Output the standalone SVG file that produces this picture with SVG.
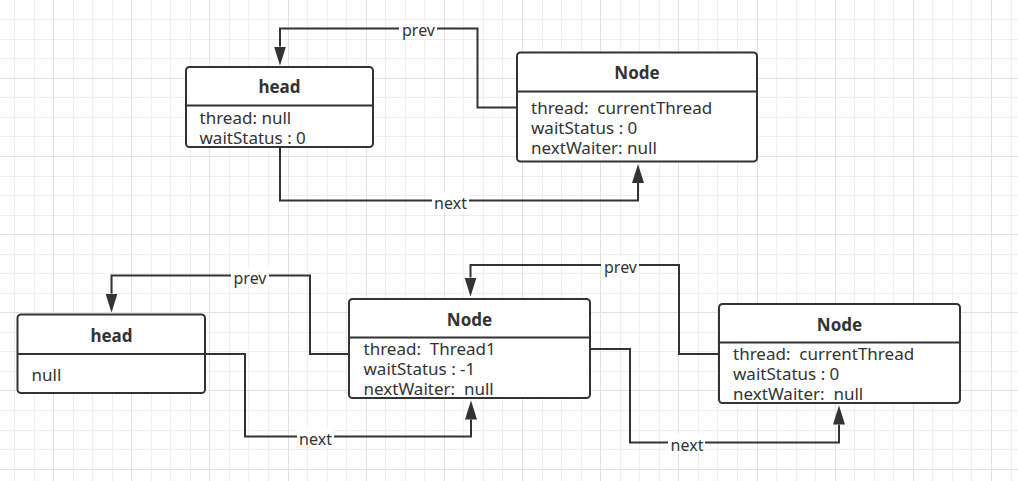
<svg xmlns="http://www.w3.org/2000/svg" width="1018" height="481" viewBox="0 0 1018 481">
<style>
  .minor { stroke: #efefef; stroke-width: 1; fill: none; }
  .major { stroke: #e2e2e2; stroke-width: 1; fill: none; }
  .box { fill: #ffffff; stroke: #333333; stroke-width: 2; }
  .div { stroke: #333333; stroke-width: 2; }
  .title { font-family: "Noto Sans", "Open Sans", sans-serif; font-size: 17px; font-weight: bold; fill: #333333; text-anchor: middle; }
  .body { font-family: "Noto Sans", "Open Sans", sans-serif; font-size: 17px; fill: #333333; white-space: pre; }
  .conn { fill: none; stroke: #333333; stroke-width: 2; }
  .lblbg { fill: #ffffff; }
  .lbl { font-family: "Noto Sans", "Open Sans", sans-serif; font-size: 16px; fill: #333333; text-anchor: middle; }
</style>
<defs>
  <marker id="arrow" markerUnits="userSpaceOnUse" markerWidth="20" markerHeight="14" refX="0" refY="7" orient="auto" viewBox="0 0 20 14">
    <path d="M0,1 L19,7 L0,13 Z" fill="#333333"/>
  </marker>
</defs>
<rect x="0" y="0" width="1018" height="481" fill="#ffffff"/>
<g id="grid">
  <path class="minor" d="M14.5 0V481M34.5 0V481M73.5 0V481M92.5 0V481M112.5 0V481M151.5 0V481M170.5 0V481M190.5 0V481M229.5 0V481M248.5 0V481M268.5 0V481M307.5 0V481M327.5 0V481M346.5 0V481M385.5 0V481M405.5 0V481M424.5 0V481M463.5 0V481M483.5 0V481M502.5 0V481M542.5 0V481M561.5 0V481M581.5 0V481M620.5 0V481M639.5 0V481M659.5 0V481M698.5 0V481M717.5 0V481M737.5 0V481M776.5 0V481M796.5 0V481M815.5 0V481M854.5 0V481M874.5 0V481M893.5 0V481M932.5 0V481M952.5 0V481M971.5 0V481M1011.5 0V481M0 19.5H1018M0 39.5H1018M0 58.5H1018M0 97.5H1018M0 117.5H1018M0 136.5H1018M0 176.5H1018M0 195.5H1018M0 215.5H1018M0 254.5H1018M0 273.5H1018M0 293.5H1018M0 332.5H1018M0 351.5H1018M0 371.5H1018M0 410.5H1018M0 430.5H1018M0 449.5H1018"/>
  <path class="major" d="M53.5 0V481M131.5 0V481M209.5 0V481M288.5 0V481M366.5 0V481M444.5 0V481M522.5 0V481M600.5 0V481M678.5 0V481M757.5 0V481M835.5 0V481M913.5 0V481M991.5 0V481M0 78.5H1018M0 156.5H1018M0 234.5H1018M0 312.5H1018M0 390.5H1018M0 469.5H1018"/>
</g>
<g id="connectors">
  <path class="conn" d="M517 107.5H477.5V28.5H280V46.5" marker-end="url(#arrow)"/>
  <path class="conn" d="M280 147V200.5H638V183" marker-end="url(#arrow)"/>
  <path class="conn" d="M349 354H310V275.5H111.5V293.5" marker-end="url(#arrow)"/>
  <path class="conn" d="M205 354H245V436.5H471V419.5" marker-end="url(#arrow)"/>
  <path class="conn" d="M719 354H679V265H470.5V277.5" marker-end="url(#arrow)"/>
  <path class="conn" d="M590 349H630V442.5H839V424.5" marker-end="url(#arrow)"/>
  <rect class="lblbg" x="399" y="20" width="38" height="19"/>
  <text class="lbl" x="418.5" y="36">prev</text>
  <rect class="lblbg" x="432" y="192" width="37" height="19"/>
  <text class="lbl" x="450.5" y="208.5">next</text>
  <rect class="lblbg" x="231" y="267" width="38" height="19"/>
  <text class="lbl" x="250" y="283.5">prev</text>
  <rect class="lblbg" x="297" y="428" width="37" height="19"/>
  <text class="lbl" x="315.5" y="444.5">next</text>
  <rect class="lblbg" x="601" y="256" width="38" height="19"/>
  <text class="lbl" x="620.5" y="273">prev</text>
  <rect class="lblbg" x="668" y="434" width="37" height="19"/>
  <text class="lbl" x="687" y="450.5">next</text>
</g>
<g id="top-head">
  <rect class="box" x="186" y="67" width="187" height="80" rx="3.5"/>
  <line class="div" x1="186" y1="105.5" x2="373" y2="105.5"/>
  <text class="title" x="279.5" y="93">head</text>
  <text class="body" x="199.5" y="124">thread: null</text>
  <text class="body" x="199.5" y="143.5">waitStatus : 0</text>
</g>
<g id="top-node">
  <rect class="box" x="517" y="52.5" width="240" height="109" rx="3.5"/>
  <line class="div" x1="517" y1="91.5" x2="757" y2="91.5"/>
  <text class="title" x="637" y="79">Node</text>
  <text class="body" x="531" y="113.5">thread:  currentThread</text>
  <text class="body" x="531" y="133.5">waitStatus : 0</text>
  <text class="body" x="531" y="153.5">nextWaiter: null</text>
</g>
<g id="bottom-head">
  <rect class="box" x="17.5" y="314.5" width="187.5" height="78.5" rx="3.5"/>
  <line class="div" x1="17.5" y1="354" x2="205" y2="354"/>
  <text class="title" x="111.5" y="341.5">head</text>
  <text class="body" x="31.5" y="380.5">null</text>
</g>
<g id="node-thread1">
  <rect class="box" x="349" y="299" width="241" height="99" rx="3.5"/>
  <line class="div" x1="349" y1="337.5" x2="590" y2="337.5"/>
  <text class="title" x="469.5" y="326">Node</text>
  <text class="body" x="363.5" y="355">thread:  Thread1</text>
  <text class="body" x="363.5" y="375">waitStatus : -1</text>
  <text class="body" x="363.5" y="394.5">nextWaiter:  null</text>
</g>
<g id="node-current">
  <rect class="box" x="719" y="304" width="241" height="99" rx="3.5"/>
  <line class="div" x1="719" y1="342.5" x2="960" y2="342.5"/>
  <text class="title" x="839.5" y="331">Node</text>
  <text class="body" x="733" y="360">thread:  currentThread</text>
  <text class="body" x="733" y="380">waitStatus : 0</text>
  <text class="body" x="733" y="399.5">nextWaiter:  null</text>
</g>
</svg>
